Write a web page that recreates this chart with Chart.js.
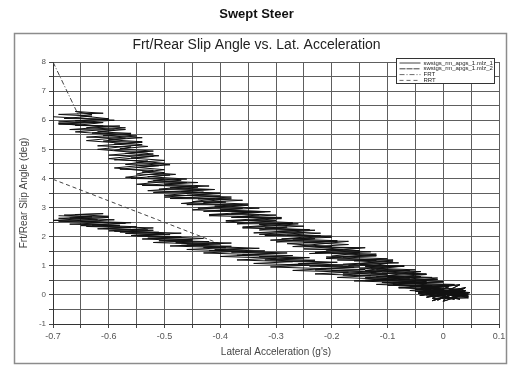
<!DOCTYPE html>
<html>
<head>
<meta charset="utf-8">
<script src="https://cdn.jsdelivr.net/npm/chart.js@4.4.1/dist/chart.umd.min.js"></script>
<style>
  html, body { margin: 0; padding: 0; background: #fff; }
</style>
</head>
<body>
<canvas id="c" width="510" height="368"></canvas>
<script>
// Swept steer: front / rear slip angle against lateral acceleration.
// Values; the noisy traces are hand-traced.

const X_LABELS = [-0.7, -0.6, -0.5, -0.4, -0.3, -0.2, -0.1, 0, 0.1];
const Y_LABELS = [-1, 0, 1, 2, 3, 4, 5, 6, 7, 8];

const SERIES_NAMES = [
  "swstgs_rm_apgs_1.mlz_1",
  "swstgs_rm_apgs_1.mlz_2",
  "FRT",
  "RRT",
];

// settling cloud around zero, shared start of both traces
const CENTRE_BLOB = [
  [0.03, 0.0], [-0.04, 0.1], [0.045, -0.05], [-0.03, 0.2], [0.02, -0.15],
  [-0.045, 0.05], [0.04, 0.15], [-0.02, -0.2], [0.035, 0.1], [-0.04, 0.25],
  [0.01, -0.1], [0.045, 0.0], [-0.035, 0.15], [0.025, -0.05], [-0.015, 0.2],
  [0.04, 0.05], [-0.045, 0.1], [0.03, -0.15], [-0.025, 0.3], [0.02, 0.05],
  [-0.03, -0.08], [0.038, 0.22], [-0.042, -0.02], [0.015, 0.12],
  [0.0, -0.22], [0.048, 0.08], [-0.047, 0.18], [0.03, 0.35], [-0.02, -0.12],
  [0.045, -0.1], [-0.04, 0.32], [0.01, 0.28], [-0.03, 0.0], [0.04, 0.25],
  [-0.01, -0.18], [0.02, 0.18],
];

// front slip angle, first pass out to full lock
const FRONT_OUT = [
  [-0.06, 0.3], [0.01, 0.31], [-0.08, 0.4], [0.0, 0.44], [-0.07, 0.43],
  [-0.01, 0.53], [-0.11, 0.52], [-0.04, 0.63], [-0.1, 0.6], [-0.03, 0.7],
  [-0.13, 0.75], [-0.05, 0.74], [-0.12, 0.86], [-0.06, 0.83], [-0.15, 0.92],
  [-0.08, 0.99], [-0.14, 0.97], [-0.1, 1.08], [-0.18, 1.05], [-0.09, 1.16],
  [-0.19, 1.2], [-0.12, 1.19], [-0.21, 1.3], [-0.12, 1.34], [-0.2, 1.33],
  [-0.15, 1.45], [-0.24, 1.42], [-0.15, 1.52], [-0.25, 1.58], [-0.18, 1.56],
  [-0.25, 1.68], [-0.2, 1.66], [-0.28, 1.76], [-0.19, 1.83], [-0.3, 1.82],
  [-0.23, 1.93], [-0.29, 1.92], [-0.22, 2.03], [-0.32, 2.04], [-0.25, 2.13],
  [-0.34, 2.13], [-0.24, 2.24], [-0.33, 2.23], [-0.28, 2.33], [-0.36, 2.33],
  [-0.27, 2.45], [-0.37, 2.44], [-0.3, 2.55], [-0.39, 2.55], [-0.3, 2.65],
  [-0.38, 2.66], [-0.33, 2.75], [-0.42, 2.76], [-0.33, 2.86], [-0.43, 2.87],
  [-0.36, 2.97], [-0.44, 2.98], [-0.36, 3.09], [-0.46, 3.1], [-0.39, 3.19],
  [-0.45, 3.2], [-0.41, 3.3], [-0.49, 3.31], [-0.4, 3.4], [-0.5, 3.42],
  [-0.43, 3.53], [-0.52, 3.52], [-0.42, 3.62], [-0.51, 3.63], [-0.45, 3.74],
  [-0.54, 3.76], [-0.46, 3.86], [-0.53, 3.88], [-0.5, 3.98], [-0.56, 4.0],
  [-0.49, 4.12], [-0.55, 4.15], [-0.52, 4.28], [-0.58, 4.32], [-0.51, 4.44],
  [-0.57, 4.48], [-0.53, 4.6], [-0.59, 4.64], [-0.52, 4.76], [-0.6, 4.8],
  [-0.53, 4.92], [-0.59, 4.96], [-0.56, 5.08], [-0.62, 5.12], [-0.54, 5.24],
  [-0.61, 5.28], [-0.57, 5.38], [-0.64, 5.42], [-0.56, 5.52], [-0.63, 5.56],
  [-0.59, 5.66], [-0.67, 5.68], [-0.58, 5.8], [-0.66, 5.82], [-0.61, 5.92],
  [-0.69, 5.94], [-0.6, 6.04], [-0.68, 6.06], [-0.63, 6.14], [-0.69, 6.2],
  [-0.61, 6.24], [-0.66, 6.3], [-0.63, 6.2],
];

// front slip angle, unwinding back to zero
const FRONT_BACK = [
  [-0.65, 6.15], [-0.6, 6.05], [-0.66, 5.98], [-0.62, 5.92], [-0.69, 5.87],
  [-0.61, 5.8], [-0.64, 5.74], [-0.57, 5.68], [-0.62, 5.6], [-0.56, 5.55],
  [-0.61, 5.47], [-0.54, 5.4], [-0.6, 5.33], [-0.54, 5.26], [-0.59, 5.18],
  [-0.53, 5.1], [-0.58, 5.02], [-0.52, 4.94], [-0.57, 4.86], [-0.51, 4.78],
  [-0.56, 4.7], [-0.5, 4.62], [-0.55, 4.55], [-0.49, 4.47], [-0.55, 4.38],
  [-0.5, 4.3], [-0.54, 4.22], [-0.48, 4.14], [-0.53, 4.06], [-0.46, 3.98],
  [-0.52, 3.92], [-0.44, 3.86], [-0.5, 3.8], [-0.42, 3.74], [-0.49, 3.68],
  [-0.41, 3.62], [-0.47, 3.55], [-0.4, 3.48], [-0.46, 3.42], [-0.38, 3.36],
  [-0.44, 3.3], [-0.36, 3.25], [-0.43, 3.18], [-0.35, 3.12], [-0.41, 3.05],
  [-0.33, 2.98], [-0.4, 2.92], [-0.32, 2.86], [-0.38, 2.8], [-0.3, 2.74],
  [-0.37, 2.68], [-0.29, 2.62], [-0.35, 2.55], [-0.27, 2.48], [-0.33, 2.42],
  [-0.25, 2.36], [-0.32, 2.3], [-0.24, 2.24], [-0.3, 2.18], [-0.22, 2.12],
  [-0.28, 2.05], [-0.2, 1.98], [-0.27, 1.92], [-0.19, 1.86], [-0.25, 1.8],
  [-0.17, 1.73], [-0.23, 1.66], [-0.15, 1.6], [-0.21, 1.54], [-0.13, 1.48],
  [-0.2, 1.42], [-0.12, 1.36], [-0.18, 1.3], [-0.1, 1.24], [-0.16, 1.17],
  [-0.08, 1.1], [-0.15, 1.04], [-0.07, 0.98], [-0.13, 0.92], [-0.05, 0.86],
  [-0.11, 0.79], [-0.03, 0.72], [-0.1, 0.66], [-0.02, 0.6], [-0.08, 0.53],
  [0.0, 0.46], [-0.06, 0.4], [0.02, 0.34], [-0.04, 0.27], [0.03, 0.2],
];

// front slip angle, second, rougher pass out
const FRONT_MID = [
  [0.04, 0.1], [-0.05, 0.18], [0.02, 0.36], [-0.09, 0.41], [-0.01, 0.58],
  [-0.12, 0.62], [-0.04, 0.8], [-0.14, 0.84], [-0.07, 1.0], [-0.17, 1.02],
  [-0.09, 1.2], [-0.21, 1.25], [-0.12, 1.4], [-0.23, 1.46], [-0.14, 1.62],
  [-0.27, 1.66], [-0.17, 1.84], [-0.31, 1.88], [-0.2, 2.02], [-0.33, 2.08],
  [-0.23, 2.22], [-0.36, 2.3], [-0.26, 2.44], [-0.39, 2.5], [-0.29, 2.66],
  [-0.42, 2.72], [-0.31, 2.86], [-0.45, 2.92], [-0.35, 3.08], [-0.47, 3.14],
  [-0.38, 3.3], [-0.5, 3.36], [-0.4, 3.5], [-0.53, 3.58], [-0.44, 3.7],
  [-0.55, 3.8], [-0.47, 3.94], [-0.57, 4.04], [-0.5, 4.2], [-0.59, 4.36],
  [-0.5, 4.52], [-0.6, 4.68], [-0.52, 4.84], [-0.62, 5.0], [-0.54, 5.16],
  [-0.64, 5.3], [-0.55, 5.46], [-0.66, 5.6], [-0.57, 5.74], [-0.69, 5.88],
  [-0.59, 6.0], [-0.7, 6.12],
];

// rear slip angle, first pass out to full lock
const REAR_OUT = [
  [-0.01, 0.22], [-0.08, 0.26], [-0.02, 0.31], [-0.09, 0.35], [-0.03, 0.39],
  [-0.11, 0.43], [-0.05, 0.47], [-0.12, 0.51], [-0.06, 0.55], [-0.14, 0.59],
  [-0.08, 0.63], [-0.16, 0.67], [-0.1, 0.71], [-0.18, 0.75], [-0.12, 0.79],
  [-0.2, 0.83], [-0.14, 0.87], [-0.22, 0.91], [-0.16, 0.95], [-0.24, 0.99],
  [-0.18, 1.03], [-0.26, 1.07], [-0.2, 1.11], [-0.28, 1.15], [-0.23, 1.19],
  [-0.31, 1.23], [-0.25, 1.27], [-0.33, 1.31], [-0.27, 1.35], [-0.36, 1.39],
  [-0.3, 1.43], [-0.38, 1.47], [-0.32, 1.51], [-0.41, 1.55], [-0.35, 1.59],
  [-0.43, 1.63], [-0.38, 1.67], [-0.46, 1.71], [-0.4, 1.75], [-0.48, 1.79],
  [-0.42, 1.83], [-0.5, 1.87], [-0.45, 1.91], [-0.53, 1.95], [-0.47, 1.99],
  [-0.55, 2.03], [-0.49, 2.07], [-0.57, 2.11], [-0.51, 2.15], [-0.59, 2.19],
  [-0.53, 2.23], [-0.62, 2.27], [-0.56, 2.31], [-0.64, 2.35], [-0.58, 2.39],
  [-0.67, 2.43], [-0.6, 2.48], [-0.69, 2.53], [-0.62, 2.58], [-0.69, 2.63],
  [-0.63, 2.68], [-0.68, 2.74], [-0.61, 2.79], [-0.66, 2.76],
];

// rear slip angle, unwinding back to zero
const REAR_BACK = [
  [-0.6, 2.7], [-0.67, 2.64], [-0.59, 2.58], [-0.65, 2.52], [-0.57, 2.46],
  [-0.63, 2.4], [-0.55, 2.34], [-0.61, 2.28], [-0.52, 2.22], [-0.58, 2.16],
  [-0.5, 2.1], [-0.56, 2.04], [-0.47, 1.98], [-0.54, 1.92], [-0.45, 1.86],
  [-0.52, 1.8], [-0.42, 1.74], [-0.49, 1.68], [-0.39, 1.62], [-0.46, 1.56],
  [-0.36, 1.5], [-0.43, 1.44], [-0.33, 1.38], [-0.4, 1.32], [-0.3, 1.26],
  [-0.37, 1.2], [-0.27, 1.14], [-0.34, 1.08], [-0.24, 1.02], [-0.31, 0.96],
  [-0.21, 0.9], [-0.27, 0.84], [-0.17, 0.78], [-0.23, 0.72], [-0.13, 0.66],
  [-0.19, 0.6], [-0.1, 0.54], [-0.16, 0.48], [-0.06, 0.42], [-0.12, 0.36],
  [-0.03, 0.3], [-0.08, 0.24], [0.0, 0.18], [-0.05, 0.12],
];

// rear slip angle, second, rougher pass out
const REAR_MID = [
  [0.03, 0.05], [-0.06, 0.15], [0.0, 0.28], [-0.1, 0.33], [-0.03, 0.46],
  [-0.14, 0.5], [-0.07, 0.62], [-0.18, 0.68], [-0.11, 0.8], [-0.23, 0.86],
  [-0.15, 0.96], [-0.28, 1.04], [-0.19, 1.12], [-0.32, 1.2], [-0.24, 1.28],
  [-0.37, 1.36], [-0.28, 1.44], [-0.42, 1.52], [-0.33, 1.6], [-0.47, 1.7],
  [-0.38, 1.78], [-0.51, 1.86], [-0.43, 1.94], [-0.56, 2.04], [-0.47, 2.12],
  [-0.6, 2.2], [-0.52, 2.3], [-0.65, 2.38], [-0.56, 2.48], [-0.7, 2.56],
  [-0.6, 2.66], [-0.69, 2.72],
];

// straight reference lines
const FRONT_REF = [[-0.7, 8.0], [-0.655, 6.2]];
const REAR_REF = [[-0.7, 3.97], [-0.4, 1.75]];

const FONT = "'Liberation Sans', Arial, sans-serif";

function pts(...lists) {
  const out = [];
  lists.forEach((l) => l.forEach(([x, y]) => out.push({ x, y })));
  return out;
}

function isLabel(list, v) {
  return list.some((l) => Math.abs(l - v) < 1e-6);
}

function fmt(v) {
  const r = Math.round(v * 10) / 10;
  return r === 0 ? "0" : String(r);
}

// grey frame round the whole plot
const frame = {
  id: "frame",
  beforeDraw(chart) {
    const { ctx } = chart;
    ctx.save();
    ctx.fillStyle = "#fff";
    ctx.fillRect(0, 0, chart.width, chart.height);
    ctx.strokeStyle = "#8c8c8c";
    ctx.lineWidth = 1.5;
    ctx.strokeRect(14.5, 33.5, 492, 330);
    ctx.restore();
  },
};

// boxed legend in the top right corner of the plot, Excel style
const boxLegend = {
  id: "boxLegend",
  afterDatasetsDraw(chart) {
    const { ctx, chartArea } = chart;
    const w = 98, h = 25, rowH = 5.8;
    const left = chartArea.right - w - 4.5;
    const top = chartArea.top - 3.5;
    ctx.save();
    ctx.fillStyle = "#fff";
    ctx.fillRect(left, top, w, h);
    ctx.strokeStyle = "#333";
    ctx.lineWidth = 1;
    ctx.strokeRect(left, top, w, h);
    ctx.font = "6px " + FONT;
    ctx.textBaseline = "middle";
    chart.data.datasets.forEach((ds, i) => {
      const y = top + 4.5 + i * rowH;
      ctx.strokeStyle = ds.borderColor;
      ctx.lineWidth = 0.8;
      ctx.setLineDash(ds.legendDash || ds.borderDash || []);
      ctx.beginPath();
      ctx.moveTo(left + 3, y);
      ctx.lineTo(left + 24, y);
      ctx.stroke();
      ctx.setLineDash([]);
      ctx.fillStyle = "#222";
      ctx.fillText(ds.label, left + 27, y);
    });
    ctx.restore();
  },
};

const trace = {
  showLine: true,
  pointRadius: 0,
  borderColor: "#111",
  borderWidth: 1,
  tension: 0,
};

new Chart(document.getElementById("c"), {
  type: "scatter",
  data: {
    datasets: [
      { ...trace, label: SERIES_NAMES[0], data: pts(CENTRE_BLOB, FRONT_OUT, FRONT_BACK, FRONT_MID) },
      { ...trace, label: SERIES_NAMES[1], data: pts(CENTRE_BLOB.slice().reverse(), REAR_OUT, REAR_BACK, REAR_MID), legendDash: [6, 1] },
      { ...trace, label: SERIES_NAMES[2], data: pts(FRONT_REF), borderColor: "#444", borderWidth: 1, borderDash: [5, 2, 1, 2] },
      { ...trace, label: SERIES_NAMES[3], data: pts(REAR_REF), borderColor: "#444", borderWidth: 1, borderDash: [4, 3] },
    ],
  },
  options: {
    responsive: false,
    animation: false,
    layout: { padding: { left: 14, right: 11, top: 0, bottom: 0 } },
    plugins: {
      title: {
        display: true,
        text: "Swept Steer",
        color: "#111",
        font: { family: FONT, size: 13, weight: "bold" },
        padding: { top: 7, bottom: 11 },
      },
      subtitle: {
        display: true,
        text: "Frt/Rear Slip Angle vs. Lat. Acceleration",
        color: "#222",
        font: { family: FONT, size: 14 },
        padding: { top: 3, bottom: 8.6 },
      },
      legend: { display: false },
      tooltip: { enabled: false },
    },
    scales: {
      x: {
        type: "linear",
        min: -0.7,
        max: 0.1,
        afterFit: (s) => { s.height = 44; },
        ticks: {
          stepSize: 0.05,
          color: "#555",
          font: { family: FONT, size: 9 },
          padding: 3,
          maxRotation: 0,
          autoSkip: false,
          callback: (v) => (isLabel(X_LABELS, v) ? fmt(v) : ""),
        },
        grid: { color: "#5e5e5e", lineWidth: 1, tickLength: 4, tickColor: "#444" },
        border: { color: "#333", width: 1 },
        title: {
          display: true,
          text: "Lateral Acceleration (g's)",
          color: "#444",
          font: { family: FONT, size: 10 },
          padding: { top: 0, bottom: 10 },
        },
      },
      y: {
        type: "linear",
        min: -1,
        max: 8,
        afterFit: (s) => { s.width = 39; },
        ticks: {
          stepSize: 0.5,
          color: "#555",
          font: { family: FONT, size: 8 },
          padding: 3,
          autoSkip: false,
          callback: (v) => (isLabel(Y_LABELS, v) ? String(Math.round(v)) : ""),
        },
        grid: { color: "#5e5e5e", lineWidth: 1, tickLength: 4, tickColor: "#444" },
        border: { color: "#333", width: 1 },
        title: {
          display: true,
          text: "Frt/Rear Slip Angle (deg)",
          color: "#444",
          font: { family: FONT, size: 10 },
          padding: { top: 4, bottom: 0 },
        },
      },
    },
  },
  plugins: [frame, boxLegend],
});
</script>
</body>
</html>
